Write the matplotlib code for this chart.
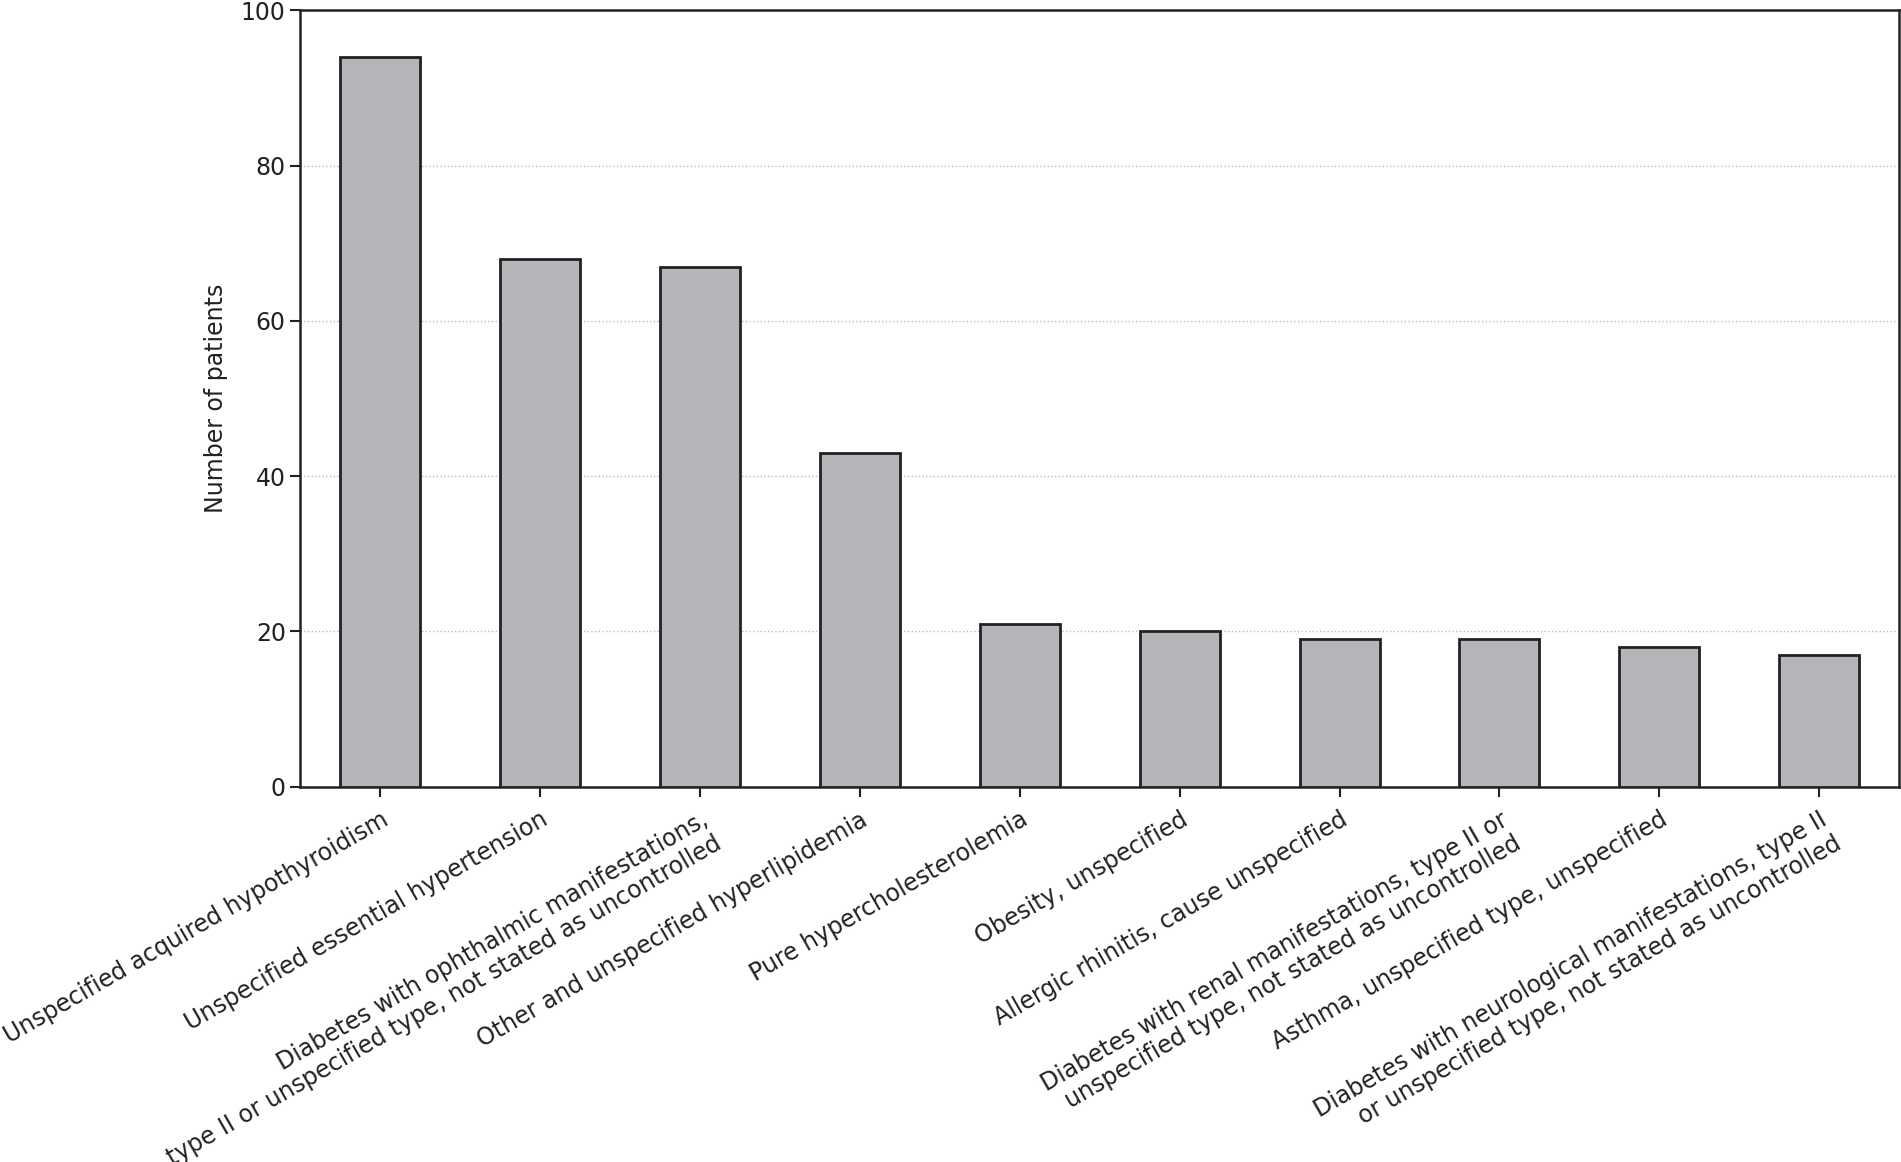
import matplotlib.pyplot as plt
import numpy as np

diagnoses = [
    "Unspecified acquired hypothyroidism",
    "Unspecified essential hypertension",
    "Diabetes with ophthalmic manifestations,\ntype II or unspecified type, not stated as uncontrolled",
    "Other and unspecified hyperlipidemia",
    "Pure hypercholesterolemia",
    "Obesity, unspecified",
    "Allergic rhinitis, cause unspecified",
    "Diabetes with renal manifestations, type II or\nunspecified type, not stated as uncontrolled",
    "Asthma, unspecified type, unspecified",
    "Diabetes with neurological manifestations, type II\nor unspecified type, not stated as uncontrolled",
]
patients = [94, 68, 67, 43, 21, 20, 19, 19, 18, 17]
yticks = [0, 20, 40, 60, 80, 100]

plt.rcParams['font.family'] = 'DejaVu Sans'
plt.rcParams['font.size'] = 17

fig = plt.figure(figsize=(19.01, 11.62), dpi=100)
ax = fig.add_axes([0.158, 0.323, 0.841, 0.668])

x = np.arange(len(patients))
ax.bar(x, patients, width=0.5, color='#b4b5b9', edgecolor='#222222',
       linewidth=2, zorder=3)

ax.set_xlim(-0.5, len(patients) - 0.5)
ax.set_ylim(0, 100)
ax.set_yticks(yticks)
ax.set_xticks(x)
ax.set_xticklabels(diagnoses, rotation=30, ha='right',
                   rotation_mode='anchor', color='#222222')
ax.tick_params(axis='both', colors='#222222', width=1.5, length=7,
               labelcolor='#222222')
ax.tick_params(axis='x', pad=8)
ax.set_ylabel("Number of patients", color='#222222', labelpad=9)

ax.yaxis.grid(True, linestyle=':', color='#bbbbbb', linewidth=1, zorder=0)
ax.set_axisbelow(True)
for s in ax.spines.values():
    s.set_color('#222222')
    s.set_linewidth(1.8)

fig.savefig("out.png", dpi=100)
